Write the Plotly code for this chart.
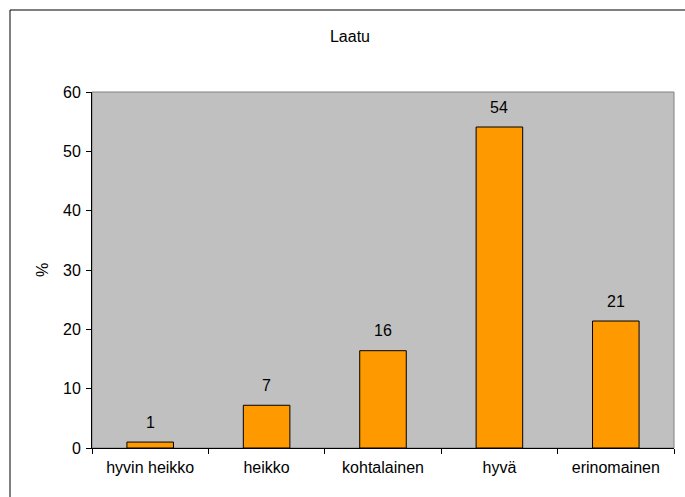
import plotly.graph_objects as go

# Survey result: quality rating distribution (%)
categories = ["hyvin heikko", "heikko", "kohtalainen", "hyvä", "erinomainen"]
percent = [1.0, 7.2, 16.4, 54.1, 21.4]
y_ticks = [0, 10, 20, 30, 40, 50, 60]

W, H = 685, 497
ML, MR, MT, MB = 92, 11, 92, 49
PW, PH = W - ML - MR, H - MT - MB

FONT = dict(family="Arial, Liberation Sans, sans-serif", size=16, color="black")

fig = go.Figure()
fig.add_trace(go.Bar(
    x=categories,
    y=percent,
    marker=dict(color="#FF9900", line=dict(color="black", width=1)),
    hoverinfo="x+y",
))

# value labels above the bars, rounded to whole percent
annotations = [
    dict(x=c, y=v, xref="x", yref="y", text=f"{v:.0f}", showarrow=False,
         yanchor="middle", yshift=20, font=FONT)
    for c, v in zip(categories, percent)
]
# rotated y-axis title
annotations.append(dict(
    x=(42 - ML) / PW, y=0.5, xref="paper", yref="paper", text="%",
    showarrow=False, textangle=-90, font=FONT, xanchor="center", yanchor="middle",
))


def px_to_paper_x(px):
    return (px - ML) / PW


def px_to_paper_y(py):
    return (H - MB - py) / PH


shapes = [
    # grey frame around the plotting area (top/right edges)
    dict(type="rect", xref="paper", yref="paper", x0=0, x1=1, y0=0, y1=1,
         line=dict(color="#808080", width=1), layer="below"),
    # outer chart border
    dict(type="rect", xref="paper", yref="paper",
         x0=px_to_paper_x(10), x1=px_to_paper_x(W + 10),
         y0=px_to_paper_y(H + 10), y1=px_to_paper_y(10),
         line=dict(color="black", width=1), layer="above"),
]

fig.update_layout(
    width=W, height=H,
    margin=dict(l=ML, r=MR, t=MT, b=MB, pad=0),
    paper_bgcolor="white",
    plot_bgcolor="#C0C0C0",
    font=FONT,
    showlegend=False,
    bargap=0.6,
    title=dict(text="Laatu", x=350 / W, xref="container", xanchor="center",
               y=1 - 36 / H, yref="container", yanchor="middle", font=FONT),
    annotations=annotations,
    shapes=shapes,
)
fig.update_xaxes(
    type="category",
    showline=True, linecolor="black", linewidth=1,
    ticks="outside", ticklen=5, tickcolor="black", tickson="boundaries",
    ticklabelstandoff=5,
    showgrid=False, zeroline=False,
    tickfont=FONT,
)
fig.update_yaxes(
    range=[0, 60], tickvals=y_ticks,
    showline=True, linecolor="black", linewidth=1,
    ticks="outside", ticklen=5, tickcolor="black",
    ticklabelstandoff=2,
    showgrid=False, zeroline=False,
    tickfont=FONT,
)

fig.write_html("out.html")
